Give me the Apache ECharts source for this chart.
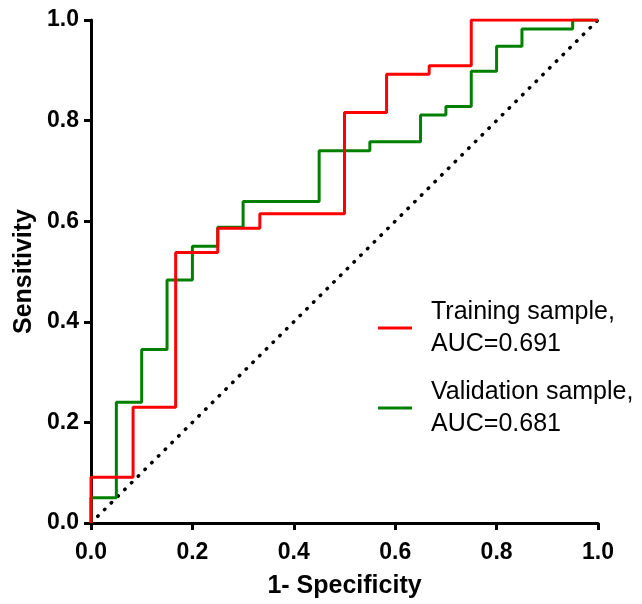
<!DOCTYPE html>
<html>
<head>
<meta charset="utf-8">
<script src="https://cdn.jsdelivr.net/npm/echarts@6/dist/echarts.min.js"></script>
<style>
  html, body { margin: 0; padding: 0; background: #fff; }
</style>
</head>
<body>
<!-- ROC 曲线 -->
<div id="roc" style="width: 642px; height: 604px"></div>
<script>
// 训练集 ROC 点 (1-特异度, 灵敏度)
const trainFpr = [0, 0, 0.083, 0.167, 0.25, 0.333, 0.5, 0.583, 0.667, 0.75, 1.0]
const trainTpr = [0, 0.091, 0.23, 0.538, 0.586, 0.615, 0.816, 0.892, 0.909, 1.0, 1.0]
// 验证集 ROC 点
const validFpr = [0, 0, 0.05, 0.1, 0.15, 0.2, 0.25, 0.3, 0.45, 0.55, 0.65, 0.7, 0.75, 0.8, 0.85, 0.95, 1.0]
const validTpr = [0, 0.05, 0.24, 0.345, 0.483, 0.55, 0.588, 0.639, 0.74, 0.758, 0.811, 0.828, 0.898, 0.948, 0.982, 1.0, 1.0]
// 参考线
const refX = [0, 1]
const refY = [0, 1]
const axisTicks = [0, 0.2, 0.4, 0.6, 0.8, 1.0]
const trainName = 'Training sample,\nAUC=0.691'
const validName = 'Validation sample,\nAUC=0.681'

const zip = (xs, ys) => xs.map((x, i) => [x, ys[i]])

const font = '"Liberation Sans", Arial, sans-serif'
const axisCommon = {
  type: 'value',
  min: axisTicks[0],
  max: axisTicks[axisTicks.length - 1],
  interval: 0.2,
  nameLocation: 'middle',
  nameTextStyle: {
    fontFamily: font,
    fontSize: 25,
    fontWeight: 'bold',
    color: '#000'
  },
  axisLine: {
    show: true,
    lineStyle: { color: '#000', width: 3 }
  },
  axisTick: {
    show: true,
    length: 7,
    lineStyle: { color: '#000', width: 3 }
  },
  axisLabel: {
    fontFamily: font,
    fontSize: 23,
    fontWeight: 'bold',
    color: '#000',
    formatter: v => v.toFixed(1)
  },
  splitLine: { show: false }
}

const chart = echarts.init(document.getElementById('roc'))
const option = {
  animation: false,
  backgroundColor: '#fff',
  grid: {
    left: 91,
    right: 44,
    top: 20,
    bottom: 81,
    containLabel: false
  },
  legend: {
    data: [trainName, validName],
    orient: 'vertical',
    left: 373,
    top: 291,
    icon: 'rect',
    itemWidth: 34,
    itemHeight: 3,
    itemGap: 16,
    textStyle: {
      fontFamily: font,
      fontSize: 25,
      lineHeight: 32,
      color: '#000',
      padding: [0, 0, 0, 14]
    }
  },
  xAxis: Object.assign({}, axisCommon, {
    name: '1- Specificity',
    nameGap: 51,
    axisLabel: Object.assign({}, axisCommon.axisLabel, { margin: 18 })
  }),
  yAxis: Object.assign({}, axisCommon, {
    name: 'Sensitivity',
    nameGap: 54,
    axisLabel: Object.assign({}, axisCommon.axisLabel, { margin: 12 })
  }),
  series: [
    {
      name: 'ref',
      type: 'line',
      data: zip(refX, refY),
      symbol: 'none',
      silent: true,
      lineStyle: { color: '#000', width: 3.5, type: [0.5, 9], cap: 'round' }
    },
    {
      name: validName,
      type: 'line',
      step: 'end',
      data: zip(validFpr, validTpr),
      symbol: 'none',
      itemStyle: { color: '#008000' },
      lineStyle: { color: '#008000', width: 3 }
    },
    {
      name: trainName,
      type: 'line',
      step: 'end',
      data: zip(trainFpr, trainTpr),
      symbol: 'none',
      itemStyle: { color: '#ff0000' },
      lineStyle: { color: '#ff0000', width: 3 }
    }
  ]
}
chart.setOption(option)
window.onresize = () => {
  chart.resize()
}
</script>
</body>
</html>
